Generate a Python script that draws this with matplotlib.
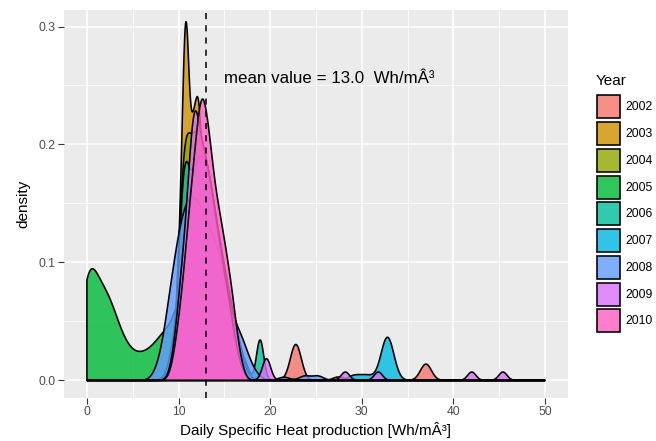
import numpy as np
import matplotlib
matplotlib.use("Agg")
import matplotlib.pyplot as plt
from matplotlib.patches import Rectangle

plt.rcParams["font.family"] = ["Liberation Sans", "DejaVu Sans"]

# Daily specific heat production per year: typical values [Wh/m3] and
# the share of days around each value, plus the smoothing bandwidth
years = ["2002", "2003", "2004", "2005", "2006", "2007", "2008", "2009", "2010"]
colors = ["#F8766D", "#D39200", "#93AA00", "#00BA38", "#00C19F",
          "#00B9E3", "#619CFF", "#DB72FB", "#FF61C3"]

vals_2002 = [10, 10.5, 11, 11.5, 12, 12.5, 13, 13.5, 14, 14.5, 15, 15.5, 16, 16.5, 17, 22.8, 27.5, 37.0]
share_2002 = [.04, .06, .07, .08, .085, .095, .09, .08, .065, .055, .045, .035, .025, .018, .01, .042, .004, .019]

vals_2003 = [9.7, 10.1, 10.5, 10.8, 11.1, 11.5, 11.9, 12.3, 12.8, 13.3, 13.8, 14.3, 14.8, 15.3, 15.9, 16.6]
share_2003 = [.01, .06, .08, .135, .08, .095, .1, .115, .09, .08, .065, .05, .04, .03, .02, .01]

vals_2004 = [9.6, 10.1, 10.5, 10.8, 11.2, 11.7, 12.2, 12.7, 13.2, 13.7, 14.2, 14.7, 15.2, 15.8, 16.5]
share_2004 = [.01, .059, .06, .07, .09, .1, .1, .095, .085, .07, .06, .05, .04, .03, .018]

vals_2005 = [0.0, 0.7, 1.5, 2.4, 3.4, 4.5, 5.6, 6.6, 7.6, 8.5, 9.3, 10.3, 11.2, 12.2, 13.3, 14.5]
share_2005 = [.13, .055, .07, .075, .05, .03, .022, .025, .03, .04, .035, .07, .12, .11, .08, .05]

vals_2006 = [9.6, 10.1, 10.5, 10.8, 11.2, 11.7, 12.2, 12.7, 13.2, 13.7, 14.2, 14.7, 15.2, 15.8, 16.5, 17.3, 18.9]
share_2006 = [.01, .05, .06, .066, .072, .085, .09, .09, .085, .07, .06, .05, .04, .036, .025, .012, .032]

vals_2007 = [9.5, 10, 10.5, 11, 11.5, 12, 12.5, 13, 13.5, 14, 14.5, 15, 15.5, 16, 16.5, 17, 29.2, 30.6, 32.8]
share_2007 = [.015, .035, .055, .07, .08, .09, .095, .09, .08, .065, .055, .0425, .0325, .0225, .015, .0075,
              .0065, .0065, .059]

vals_2008 = [7.5, 8.0, 8.5, 9.0, 9.5, 10.0, 10.5, 11, 11.5, 12, 12.5, 13, 13.5, 14, 14.5, 15,
             15.4, 16, 16.7, 17.3, 17.8, 18.5, 21.5, 23.8, 25.2]
share_2008 = [.004, .01, .02, .04, .05, .065, .075, .08, .08, .08, .075, .07, .065, .06, .055, .045,
              .035, .034, .03, .016, .009, .005, .004, .0055, .0055]

vals_2009 = [9.2, 9.7, 10.2, 10.7, 11.2, 11.6, 11.9, 12.3, 12.8, 13.3, 13.8, 14.3, 14.8, 15.3, 15.8, 16.4, 17,
             19.6, 28.2, 31.8, 42.0, 45.4]
share_2009 = [.005, .02, .04, .06, .08, .08, .08, .09, .095, .085, .072, .06, .048, .036, .028, .014, .004,
              .0196, .0075, .0075, .0075, .0075]

vals_2010 = [9, 9.5, 10, 10.5, 11, 11.5, 12, 12.5, 13, 13.5, 14, 14.5, 15, 15.5, 16, 16.5, 17]
share_2010 = [.003, .02, .048, .08, .123, .163, .2, .24, .22, .19, .153, .135, .113, .09, .065, .03, .01]

vals = [vals_2002, vals_2003, vals_2004, vals_2005, vals_2006, vals_2007, vals_2008, vals_2009, vals_2010]
shares = [share_2002, share_2003, share_2004, share_2005, share_2006, share_2007, share_2008, share_2009,
          share_2010]
bandwidth = [0.6, 0.3, 0.4, 0.9, 0.4, 0.7, 0.6, 0.45, 0.4]

mean_value = 13.0
x_min, x_max = 0, 50


def density(x, v, s, bw):
    v = np.asarray(v, float)
    s = np.asarray(s, float)
    s = s / s.sum()
    z = (x[:, None] - v[None, :]) / bw
    return (np.exp(-0.5 * z ** 2) * s).sum(axis=1) / (bw * np.sqrt(2 * np.pi))


grid = np.linspace(x_min, x_max, 1201)

fig = plt.figure(figsize=(6.56, 4.41), dpi=100)
ax = fig.add_axes([64 / 656, 1 - 398 / 441, (568 - 64) / 656, (398 - 10) / 441])
ax.set_facecolor("#EBEBEB")

for yr, col, v, s, bw in zip(years, colors, vals, shares, bandwidth):
    d = density(grid, v, s, bw)
    xs = np.r_[grid[0], grid, grid[-1]]
    ys = np.r_[0, d, 0]
    ax.fill(xs, ys, facecolor=(col, 0.8), edgecolor="black", lw=1.15, zorder=2)

ax.axvline(mean_value, color="black", lw=1.1, ls=(0, (4, 4)), zorder=3)
ax.text(15.0, 0.2555, "mean value = %.1f  Wh/mÂ³" % mean_value, fontsize=12.2, va="center", ha="left",
        color="black", zorder=4)

ax.set_xlim(-2.5, 52.5)
ax.set_ylim(-0.015, 0.314)
ax.set_xticks([0, 10, 20, 30, 40, 50])
ax.set_yticks([0.0, 0.1, 0.2, 0.3])
ax.set_yticklabels(["0.0", "0.1", "0.2", "0.3"])
ax.set_xticks([5, 15, 25, 35, 45], minor=True)
ax.set_yticks([0.05, 0.15, 0.25], minor=True)
ax.grid(which="major", color="white", lw=1.1, zorder=0)
ax.grid(which="minor", color="white", lw=0.55, zorder=0)
ax.set_axisbelow(True)
for sp in ax.spines.values():
    sp.set_visible(False)
ax.tick_params(which="major", length=4, width=0.8, color="#333333", labelcolor="#4D4D4D",
               labelsize=8.8, pad=2)
ax.tick_params(which="minor", length=0)
ax.set_xlabel("Daily Specific Heat production [Wh/mÂ³]", fontsize=11, labelpad=3)
ax.set_ylabel("density", fontsize=11, labelpad=6)

# legend drawn by hand, ggplot style
fig.text(596 / 656, 1 - 81 / 441, "Year", fontsize=11, ha="left", va="center")
for i, (yr, col) in enumerate(zip(years, colors)):
    top = 94.3 + i * 26.75
    fig.patches.append(Rectangle((595.5 / 656, 1 - (top + 25) / 441), 25 / 656, 25 / 441,
                                 transform=fig.transFigure, facecolor="#F2F2F2", edgecolor="none"))
    fig.patches.append(Rectangle((596.5 / 656, 1 - (top + 24) / 441), 23 / 656, 23 / 441,
                                 transform=fig.transFigure, facecolor=(col, 0.8), edgecolor="black", lw=1.15))
    fig.text(625 / 656, 1 - (top + 13) / 441, yr, fontsize=8.8, ha="left", va="center")

fig.savefig("out.png", dpi=100)
